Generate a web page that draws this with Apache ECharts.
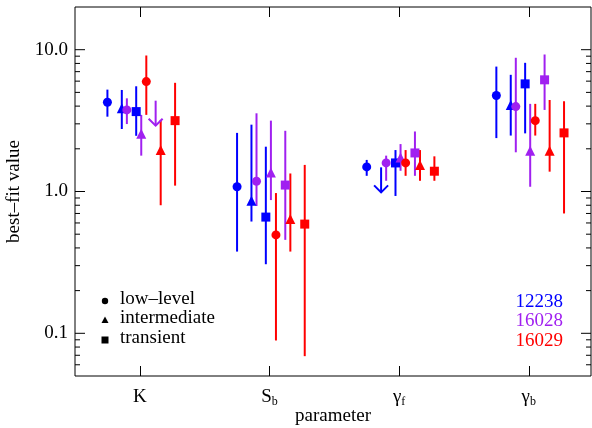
<!DOCTYPE html>
<html>
<head>
<meta charset="utf-8">
<script src="https://cdn.jsdelivr.net/npm/echarts@6/dist/echarts.min.js"></script>
<style>
html,body{margin:0;padding:0;background:#fff;}
#chart{width:592px;height:428px;}
</style>
</head>
<body>
<div id="chart"></div>
<script>
// ---------------- DATA ----------------
const categories = ['K', 'S_b', 'γ_f', 'γ_b'];
const observations = ['12238', '16028', '16029'];
const states = ['low–level', 'intermediate', 'transient'];
// each entry: [best-fit value, lower bound, upper bound], one per category
const obs12238_lowLevel     = [[4.26, 3.37, 5.23], [1.08, 0.377, 2.59], [1.49, 1.29, 1.67], [4.75, 2.38, 7.6]];
const obs12238_intermediate = [[3.86, 2.76, 5.2], [0.86, 0.614, 2.96], null, [4.08, 2.48, 6.65]];
const obs12238_transient    = [[3.66, 2.47, 5.52], [0.66, 0.307, 2.07], [1.59, 0.93, 1.96], [5.74, 2.57, 8.08]];
const obs16028_lowLevel     = [[3.76, 2.99, 4.54], [1.18, 0.79, 3.56], [1.59, 1.19, 1.79], [3.97, 1.89, 8.77]];
const obs16028_intermediate = [[2.55, 1.79, 3.47], [1.36, 0.87, 3.16], [1.74, 1.4, 2.16], [1.94, 1.08, 4.15]];
const obs16028_transient    = [null, [1.11, 0.456, 2.68], [1.87, 1.29, 2.65], [6.13, 3.76, 9.25]];
const obs16029_lowLevel     = [[5.96, 3.47, 9.1], [0.494, 0.089, 0.975], [1.59, 1.29, 1.96], [3.16, 2.48, 4.15]];
const obs16029_intermediate = [[1.96, 0.8, 3.2], [0.64, 0.377, 1.34], [1.54, 1.19, 1.96], [1.94, 1.38, 4.42]];
const obs16029_transient    = [[3.16, 1.1, 5.84], [0.589, 0.069, 1.54], [1.39, 1.19, 1.77], [2.59, 0.70, 4.33]];
// upper limits (arrows), one per category
const obs12238_intermediate_upperLimit = [null, null, 1.48, null];
const obs16028_transient_upperLimit    = [4.37, null, null, null];
// axis ticks
const yMajorTicks = [0.1, 1, 10];
const yMajorLabels = ['0.1', '1.0', '10.0'];
const yMinorTicks = [0.06, 0.07, 0.08, 0.09, 0.2, 0.3, 0.4, 0.5, 0.6, 0.7, 0.8, 0.9,
                     2, 3, 4, 5, 6, 7, 8, 9];

// ---------------- STYLE / LAYOUT ----------------
const FONT = '"Liberation Serif","Times New Roman",serif';
const obsColors = ['#0000ff', '#a020f0', '#ff0000'];
const stateSymbols = ['circle', 'triangle', 'rect'];
const stateSizes = [9, 10, 9];
const X_MIN = 0.5, X_MAX = 4.48, Y_MIN = 0.05, Y_MAX = 20;
const OFF_START = -0.25, OFF_STATE = 0.111, OFF_OBS = 0.15;

const dataSets = [
  [obs12238_lowLevel, obs12238_intermediate, obs12238_transient],
  [obs16028_lowLevel, obs16028_intermediate, obs16028_transient],
  [obs16029_lowLevel, obs16029_intermediate, obs16029_transient]
];
const upperLimitSets = [
  {obs: 0, state: 1, values: obs12238_intermediate_upperLimit},
  {obs: 1, state: 2, values: obs16028_transient_upperLimit}
];
function xPos(c, o, s) { return c + 1 + OFF_START + s * OFF_STATE + o * OFF_OBS; }

const series = [];
// error bars
const errData = [];
dataSets.forEach((sets, o) => sets.forEach((arr, s) => arr.forEach((d, c) => {
  if (d) errData.push([xPos(c, o, s), d[0], d[1], d[2], o]);
})));
series.push({
  type: 'custom', z: 2, silent: true,
  dimensions: ['x', 'y', 'lo', 'hi', 'o'],
  encode: {x: 0, y: 1},
  data: errData,
  renderItem(params, api) {
    const x = api.value(0);
    const p1 = api.coord([x, api.value(2)]);
    const p2 = api.coord([x, api.value(3)]);
    return {type: 'line', shape: {x1: p1[0], y1: p1[1], x2: p2[0], y2: p2[1]},
            style: {stroke: obsColors[api.value(4)], lineWidth: 2}};
  }
});
// markers
dataSets.forEach((sets, o) => sets.forEach((arr, s) => {
  const pts = [];
  arr.forEach((d, c) => { if (d) pts.push([xPos(c, o, s), d[0]]); });
  series.push({
    type: 'scatter', z: 3, silent: true, data: pts,
    symbol: stateSymbols[s], symbolSize: stateSizes[s],
    itemStyle: {color: obsColors[o], opacity: 1}
  });
}));
// upper limit arrows
const ulData = [];
upperLimitSets.forEach(u => u.values.forEach((v, c) => {
  if (v != null) ulData.push([xPos(c, u.obs, u.state), v, u.obs]);
}));
series.push({
  type: 'custom', z: 3, silent: true,
  dimensions: ['x', 'y', 'o'], encode: {x: 0, y: 1},
  data: ulData,
  renderItem(params, api) {
    const p = api.coord([api.value(0), api.value(1)]);
    const col = obsColors[api.value(2)];
    const L = 25, hw = 7, hh = 7;
    return {type: 'group', children: [
      {type: 'line', shape: {x1: p[0], y1: p[1], x2: p[0], y2: p[1] + L}, style: {stroke: col, lineWidth: 2}},
      {type: 'polyline', shape: {points: [[p[0] - hw, p[1] + L - hh], [p[0], p[1] + L], [p[0] + hw, p[1] + L - hh]]},
       style: {stroke: col, lineWidth: 2, fill: null}}
    ]};
  }
});
// y ticks (left & right, major & minor)
function tickSeries(vals, len) {
  return {
    type: 'custom', z: 4, silent: true, clip: false,
    dimensions: ['x', 'y'], encode: {x: 0, y: 1},
    data: vals.map(v => [1, v]),
    renderItem(params, api) {
      const y = api.coord([1, api.value(1)])[1];
      const l = api.coord([X_MIN, Y_MIN])[0];
      const r = api.coord([X_MAX, Y_MIN])[0];
      return {type: 'group', children: [
        {type: 'line', shape: {x1: l, y1: y, x2: l + len, y2: y}, style: {stroke: '#000', lineWidth: 1}},
        {type: 'line', shape: {x1: r, y1: y, x2: r - len, y2: y}, style: {stroke: '#000', lineWidth: 1}}
      ]};
    }
  };
}
series.push(tickSeries(yMajorTicks, 10));
series.push(tickSeries(yMinorTicks, 5));

const xLabelRich = categories.map(c => {
  const parts = c.split('_');
  return parts.length > 1 ? '{m|' + parts[0] + '}{s|' + parts[1] + '}' : '{m|' + parts[0] + '}';
});

const legendY = [301, 320, 340];
const graphic = [];
// state legend
graphic.push({type: 'circle', shape: {cx: 105, cy: legendY[0], r: 3.2}, style: {fill: '#000'}});
graphic.push({type: 'polygon', shape: {points: [[101.5, legendY[1] + 3], [108.5, legendY[1] + 3], [105, legendY[1] - 3.5]]}, style: {fill: '#000'}});
graphic.push({type: 'rect', shape: {x: 101.5, y: legendY[2] - 3.5, width: 7, height: 7}, style: {fill: '#000'}});
states.forEach((t, i) => graphic.push({
  type: 'text', x: 120, y: legendY[i] - 2,
  style: {text: t, fill: '#000', fontSize: 19, fontFamily: FONT, verticalAlign: 'middle', align: 'left'}
}));
observations.forEach((t, i) => graphic.push({
  type: 'text', x: 563, y: legendY[i] + 1,
  style: {text: t, fill: obsColors[i], fontSize: 19, fontFamily: FONT, verticalAlign: 'middle', align: 'right'}
}));

const chart = echarts.init(document.getElementById('chart'), null, {renderer: 'canvas'});
chart.setOption({
  animation: false,
  backgroundColor: '#fff',
  grid: {left: 75, right: 1, top: 7, bottom: 52, show: true, borderColor: '#000', borderWidth: 1,
         backgroundColor: 'transparent', containLabel: false, outerBoundsMode: 'none'},
  xAxis: [{
    type: 'value', min: X_MIN, max: X_MAX, position: 'bottom',
    name: 'parameter', nameLocation: 'middle', nameGap: 31, nameMoveOverlap: false,
    nameTextStyle: {fontSize: 19, fontFamily: FONT, color: '#000'},
    axisLine: {show: false}, splitLine: {show: false},
    axisTick: {show: true, inside: true, length: 10, customValues: [1, 2, 3, 4], lineStyle: {color: '#000'}},
    axisLabel: {
      show: true, margin: 10, customValues: [1, 2, 3, 4],
      formatter: v => xLabelRich[Math.round(v) - 1] || '',
      rich: {
        m: {fontSize: 19, fontFamily: FONT, color: '#000', lineHeight: 22},
        s: {fontSize: 12, fontFamily: FONT, color: '#000', lineHeight: 12, verticalAlign: 'bottom'}
      }
    }
  }, {
    type: 'value', min: X_MIN, max: X_MAX, position: 'top',
    axisLine: {show: false}, splitLine: {show: false}, axisLabel: {show: false},
    axisTick: {show: true, inside: true, length: 10, customValues: [1, 2, 3, 4], lineStyle: {color: '#000'}}
  }],
  yAxis: {
    type: 'log', logBase: 10, min: Y_MIN, max: Y_MAX,
    name: 'best–fit value', nameLocation: 'middle', nameGap: 46, nameRotate: 90,
    nameTextStyle: {fontSize: 19, fontFamily: FONT, color: '#000'},
    axisLine: {show: false}, axisTick: {show: false}, splitLine: {show: false}, minorTick: {show: false},
    axisLabel: {
      margin: 7, fontSize: 19, fontFamily: FONT, color: '#000', showMinLabel: true, showMaxLabel: true,
      formatter: v => {
        const i = yMajorTicks.findIndex(t => Math.abs(Math.log10(v / t)) < 1e-6);
        return i >= 0 ? yMajorLabels[i] : '';
      }
    }
  },
  graphic: graphic,
  series: series
});
</script>
</body>
</html>
